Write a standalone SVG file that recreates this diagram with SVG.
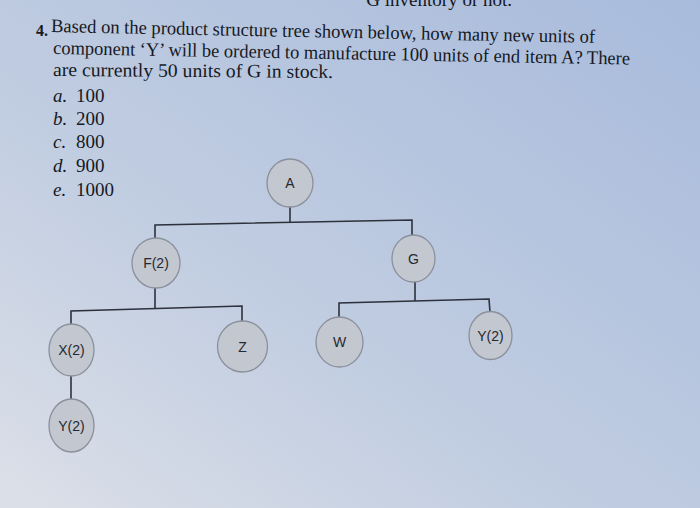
<svg xmlns="http://www.w3.org/2000/svg" width="700" height="508" viewBox="0 0 700 508">
  <defs>
    <linearGradient id="bg" x1="0" y1="1" x2="1" y2="0">
      <stop offset="0" stop-color="#dce0e8"/>
      <stop offset="0.4" stop-color="#c1cde1"/>
      <stop offset="1" stop-color="#a8bbdc"/>
    </linearGradient>
    <style>
      .q { font-family: "Liberation Serif", "Times New Roman", serif; font-size: 19px; fill: #16191f; }
      .it { font-style: italic; }
      .node ellipse { fill: #c3c7cf; stroke: #8a909c; stroke-width: 1.3; }
      .node text { font-family: "Liberation Sans", Arial, sans-serif; font-size: 14px; fill: #262930; text-anchor: middle; }
      .conn { fill: none; stroke: #2c313c; stroke-width: 1.6; stroke-linejoin: miter; }
    </style>
  </defs>
  <rect x="0" y="0" width="700" height="508" fill="url(#bg)"/>

  <!-- question text -->
  <g id="question">
    <text class="q" x="512" y="6" text-anchor="end">G inventory or not.</text>
    <text x="36" y="36" font-family="Liberation Serif, serif" font-size="16" font-weight="bold" fill="#16191f">4.</text>
    <text class="q" x="51" y="32" textLength="544" lengthAdjust="spacingAndGlyphs" transform="rotate(1.15 51 32)">Based on the product structure tree shown below, how many new units of</text>
    <text class="q" x="53" y="54" textLength="577" lengthAdjust="spacingAndGlyphs" transform="rotate(1.05 53 54)">component ‘Y’ will be ordered to manufacture 100 units of end item A? There</text>
    <text class="q" x="53" y="76" textLength="280" lengthAdjust="spacingAndGlyphs" transform="rotate(0.4 53 76)">are currently 50 units of G in stock.</text>
    <text class="q" x="53" y="102"><tspan class="it">a.</tspan><tspan x="76">100</tspan></text>
    <text class="q" x="53" y="125"><tspan class="it">b.</tspan><tspan x="76">200</tspan></text>
    <text class="q" x="53" y="148"><tspan class="it">c.</tspan><tspan x="76">800</tspan></text>
    <text class="q" x="53" y="172"><tspan class="it">d.</tspan><tspan x="76">900</tspan></text>
    <text class="q" x="53" y="196"><tspan class="it">e.</tspan><tspan x="76">1000</tspan></text>
  </g>

  <!-- connectors -->
  <g id="connectors" class="conn">
    <polyline points="290,207 290,222.5"/>
    <polyline points="155,238 155,225 412,220 412,235"/>
    <polyline points="155,288 155,308.5"/>
    <polyline points="71,324 71,311 242,306 242,321"/>
    <polyline points="415,282 415,301"/>
    <polyline points="339,317 339,303 489,299 490,312"/>
    <polyline points="71,376 71,399"/>
  </g>

  <!-- nodes -->
  <g id="node-A" class="node"><ellipse cx="290" cy="183" rx="23" ry="24"/><text x="290" y="188">A</text></g>
  <g id="node-F" class="node"><ellipse cx="156" cy="263" rx="24" ry="25"/><text x="156" y="268">F(2)</text></g>
  <g id="node-G" class="node"><ellipse cx="413.5" cy="258.5" rx="21.5" ry="23.5"/><text x="413.5" y="263.5">G</text></g>
  <g id="node-X" class="node"><ellipse cx="71.5" cy="350" rx="22.5" ry="26"/><text x="71.5" y="355">X(2)</text></g>
  <g id="node-Z" class="node"><ellipse cx="242.5" cy="346.5" rx="25" ry="25.5"/><text x="242.5" y="351.5">Z</text></g>
  <g id="node-W" class="node"><ellipse cx="339.5" cy="342" rx="23.5" ry="25"/><text x="339.5" y="347">W</text></g>
  <g id="node-Y-right" class="node"><ellipse cx="490.5" cy="335.5" rx="21.5" ry="24"/><text x="490.5" y="340.5">Y(2)</text></g>
  <g id="node-Y-left" class="node"><ellipse cx="71.5" cy="425.5" rx="22.5" ry="26.5"/><text x="71.5" y="430.5">Y(2)</text></g>
</svg>
